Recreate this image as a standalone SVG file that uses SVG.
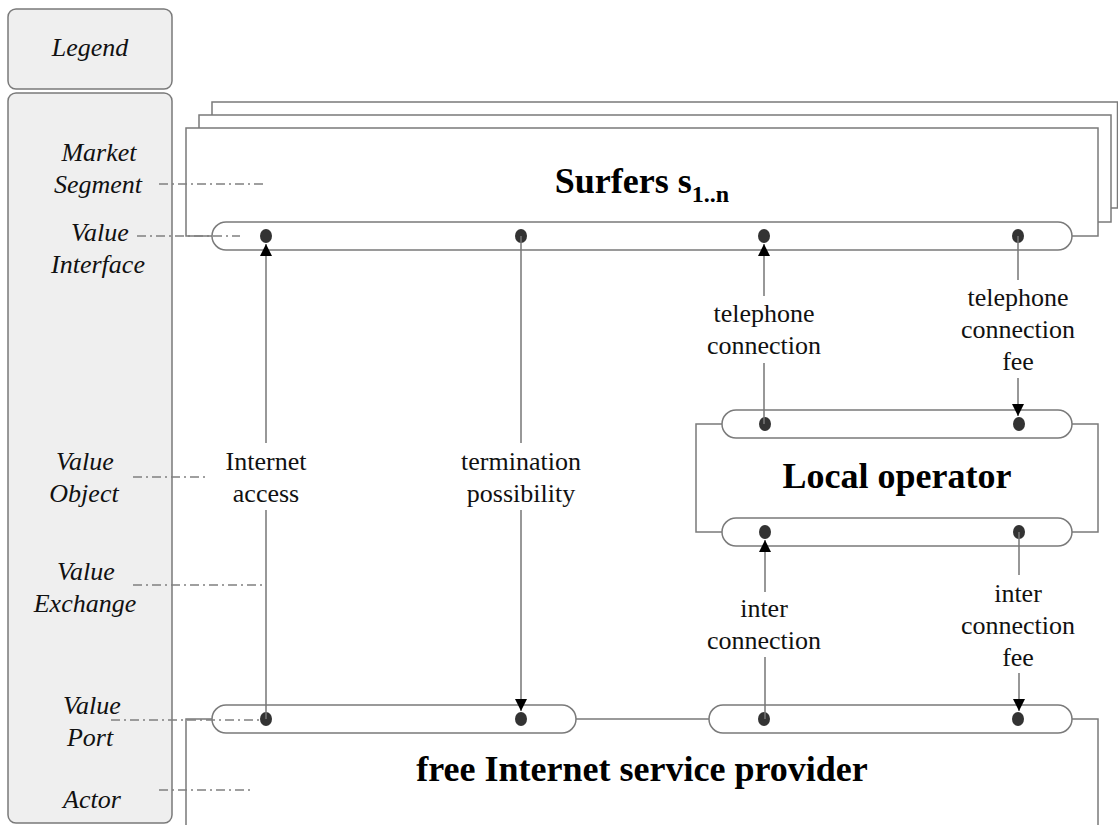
<svg xmlns="http://www.w3.org/2000/svg" width="1118" height="825" viewBox="0 0 1118 825">
  <style>
    .panel { fill: #efefef; stroke: #7a7a7a; stroke-width: 1.5; }
    .box { fill: #ffffff; stroke: #7a7a7a; stroke-width: 1.5; }
    .pill { fill: #ffffff; stroke: #7a7a7a; stroke-width: 1.5; }
    .dot { fill: #333333; }
    .flow { fill: none; stroke: #777777; stroke-width: 1.5; }
    .hint { fill: none; stroke: #808080; stroke-width: 1.3; stroke-dasharray: 9 4 2 4; }
    .leg { font-family: "Liberation Serif", "Times New Roman", serif; font-style: italic; font-size: 26px; fill: #111; text-anchor: middle; }
    .lbl { font-family: "Liberation Serif", "Times New Roman", serif; font-size: 26px; fill: #111; text-anchor: middle; }
    .title { font-family: "Liberation Serif", "Times New Roman", serif; font-weight: bold; font-size: 36px; fill: #000; text-anchor: middle; }
  </style>
  <defs>
    <marker id="arrow" markerUnits="userSpaceOnUse" markerWidth="12" markerHeight="12" refX="12" refY="6" orient="auto">
      <path d="M0,0 L12,6 L0,12 z" fill="#000"/>
    </marker>
  </defs>

  <!-- legend column -->
  <g id="legend-title">
    <rect class="panel" x="8" y="9" width="164" height="80" rx="8"/>
    <text class="leg" x="90" y="56">Legend</text>
  </g>
  <g id="legend-terms">
    <rect class="panel" x="8" y="93" width="164" height="730" rx="8"/>
    <text class="leg" x="99" y="161">Market</text>
    <text class="leg" x="98" y="193">Segment</text>
    <text class="leg" x="100" y="241">Value</text>
    <text class="leg" x="98" y="273">Interface</text>
    <text class="leg" x="85" y="470">Value</text>
    <text class="leg" x="84" y="502">Object</text>
    <text class="leg" x="86" y="580">Value</text>
    <text class="leg" x="85" y="612">Exchange</text>
    <text class="leg" x="92" y="714">Value</text>
    <text class="leg" x="90" y="746">Port</text>
    <text class="leg" x="92" y="808">Actor</text>
  </g>

  <!-- market segment: Surfers -->
  <g id="surfers">
    <rect class="box" x="212" y="102" width="905.5" height="106"/>
    <rect class="box" x="199" y="115" width="912" height="107"/>
    <rect class="box" x="186" y="128" width="912" height="108"/>
    <text class="title" x="642" y="193" font-size="35">Surfers s<tspan font-size="24" dy="9">1..n</tspan></text>
    <rect class="pill" x="212" y="222" width="860" height="28" rx="14"/>
    <ellipse class="dot" cx="266" cy="236" rx="6" ry="7"/>
    <ellipse class="dot" cx="521" cy="236" rx="6" ry="7"/>
    <ellipse class="dot" cx="764" cy="236" rx="6" ry="7"/>
    <ellipse class="dot" cx="1018" cy="236" rx="6" ry="7"/>
  </g>

  <!-- actor: Local operator -->
  <g id="local-operator">
    <rect class="box" x="696" y="424" width="402" height="108"/>
    <rect class="pill" x="722" y="410" width="350" height="28" rx="14"/>
    <rect class="pill" x="722" y="518" width="350" height="28" rx="14"/>
    <text class="title" x="897" y="488">Local operator</text>
    <ellipse class="dot" cx="765" cy="424" rx="6" ry="7"/>
    <ellipse class="dot" cx="1019" cy="424" rx="6" ry="7"/>
    <ellipse class="dot" cx="765" cy="532" rx="6" ry="7"/>
    <ellipse class="dot" cx="1019" cy="532" rx="6" ry="7"/>
  </g>

  <!-- actor: free Internet service provider -->
  <g id="isp">
    <rect class="box" x="186" y="719" width="912" height="200"/>
    <rect class="pill" x="212" y="705" width="364" height="28" rx="14"/>
    <rect class="pill" x="709" y="705" width="363" height="28" rx="14"/>
    <text class="title" x="642" y="781">free Internet service provider</text>
    <ellipse class="dot" cx="266" cy="719" rx="6" ry="7"/>
    <ellipse class="dot" cx="521" cy="719" rx="6" ry="7"/>
    <ellipse class="dot" cx="764" cy="719" rx="6" ry="7"/>
    <ellipse class="dot" cx="1018" cy="719" rx="6" ry="7"/>
  </g>

  <!-- value exchanges -->
  <g id="connectors">
    <path class="flow" d="M266,719 V510 M266,443 V244" marker-end="url(#arrow)"/>
    <path class="flow" d="M521,236 V443 M521,510 V711" marker-end="url(#arrow)"/>
    <path class="flow" d="M764,424 V363 M764,296 V244" marker-end="url(#arrow)"/>
    <path class="flow" d="M1018,236 V280 M1018,378 V416" marker-end="url(#arrow)"/>
    <path class="flow" d="M765,719 V657 M765,592 V540" marker-end="url(#arrow)"/>
    <path class="flow" d="M1019,532 V575 M1019,673 V711" marker-end="url(#arrow)"/>
  </g>

  <g id="connector-labels">
    <text class="lbl" x="266" y="470">Internet</text>
    <text class="lbl" x="266" y="502">access</text>
    <text class="lbl" x="521" y="470">termination</text>
    <text class="lbl" x="521" y="502">possibility</text>
    <text class="lbl" x="764" y="322">telephone</text>
    <text class="lbl" x="764" y="354">connection</text>
    <text class="lbl" x="1018" y="306">telephone</text>
    <text class="lbl" x="1018" y="338">connection</text>
    <text class="lbl" x="1018" y="370">fee</text>
    <text class="lbl" x="764" y="617">inter</text>
    <text class="lbl" x="764" y="649">connection</text>
    <text class="lbl" x="1018" y="602">inter</text>
    <text class="lbl" x="1018" y="634">connection</text>
    <text class="lbl" x="1018" y="666">fee</text>
  </g>

  <!-- legend pointers -->
  <g id="legend-pointers">
    <line class="hint" x1="159" y1="184" x2="267" y2="184"/>
    <line class="hint" x1="137" y1="236" x2="240" y2="236"/>
    <line class="hint" x1="133" y1="477" x2="208" y2="477"/>
    <line class="hint" x1="133" y1="585" x2="263" y2="585"/>
    <line class="hint" x1="111" y1="720" x2="260" y2="720"/>
    <line class="hint" x1="159" y1="790" x2="251" y2="790"/>
  </g>
</svg>
